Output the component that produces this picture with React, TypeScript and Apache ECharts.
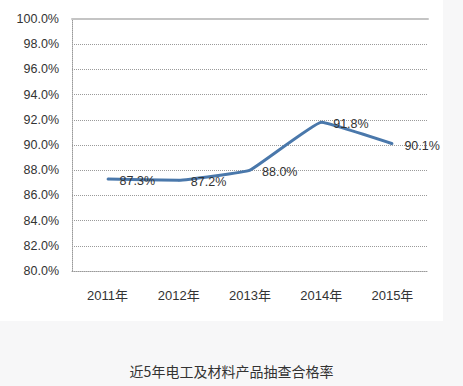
import React, { useEffect, useRef } from "react";
import * as echarts from "echarts";

const categories = ["2011年", "2012年", "2013年", "2014年", "2015年"];
const rates = [87.3, 87.2, 88.0, 91.8, 90.1];
const chartTitle = "近5年电工及材料产品抽查合格率";

export default function App() {
  const ref = useRef<HTMLDivElement>(null);
  useEffect(() => {
    if (!ref.current) return;
    const chart = echarts.init(ref.current, null, { renderer: "svg" });
    const font = "Arial, 'Liberation Sans', 'Noto Sans CJK SC', sans-serif";
    chart.setOption({
      animation: false,
      backgroundColor: "#f7f7f8",
      graphic: [
        { type: "rect", left: 0, top: 0, z: -10, shape: { width: 443, height: 321 }, style: { fill: "#ffffff" } },
        {
          type: "text",
          left: "center",
          top: 364,
          style: { text: chartTitle, fontSize: 14, fill: "#333333", fontFamily: "'Noto Sans CJK SC', sans-serif" },
        },
      ],
      grid: { left: 72, right: 35, top: 19, bottom: 115 },
      xAxis: [
        {
          type: "category",
          data: categories,
          boundaryGap: true,
          axisLine: { show: true, lineStyle: { color: "#9a9a9a", type: "dotted", width: 1 } },
          axisTick: { show: false },
          axisLabel: { color: "#333333", fontSize: 13, margin: 18, fontFamily: font },
        },
        {
          type: "category",
          data: categories,
          position: "top",
          axisLine: { show: true, lineStyle: { color: "#c4c4c4", width: 2 } },
          axisTick: { show: false },
          axisLabel: { show: false },
        },
      ],
      yAxis: {
        type: "value",
        min: 80,
        max: 100,
        interval: 2,
        axisLine: { show: true, lineStyle: { color: "#9a9a9a", type: "dotted", width: 1 } },
        axisTick: { show: false },
        splitLine: { show: true, lineStyle: { color: "#9a9a9a", type: "dotted", width: 1 } },
        axisLabel: {
          color: "#333333",
          fontSize: 12.5,
          margin: 13,
          fontFamily: font,
          formatter: (v: number) => v.toFixed(1) + "%",
        },
      },
      series: [
        {
          type: "line",
          data: rates,
          smooth: 0.08,
          symbol: "circle",
          symbolSize: 2,
          showSymbol: true,
          lineStyle: { color: "#4a78ab", width: 3 },
          itemStyle: { color: "#4a78ab" },
          label: {
            show: true,
            position: "right",
            distance: 11,
            offset: [0, 2],
            color: "#333333",
            opacity: 1,
            fontSize: 12.5,
            fontFamily: font,
            formatter: (p: any) => Number(p.value).toFixed(1) + "%",
          },
        },
      ],
    });
    return () => chart.dispose();
  }, []);
  return (
    <div
      ref={ref}
      style={{ position: "fixed", left: 0, top: 0, width: 463, height: 386 }}
    />
  );
}
